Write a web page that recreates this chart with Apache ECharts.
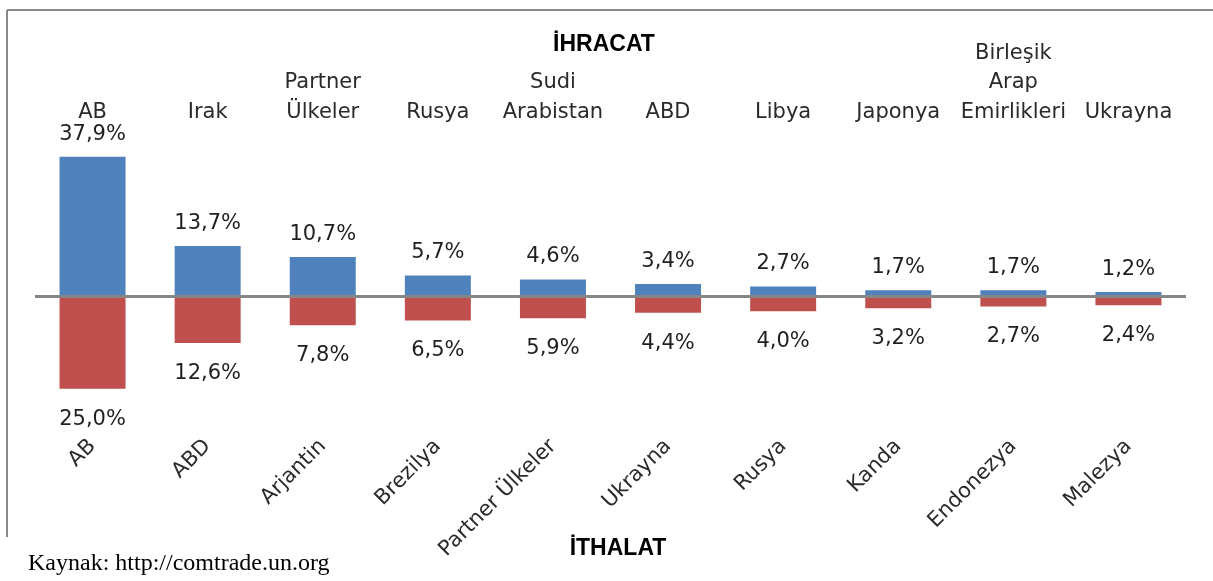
<!DOCTYPE html>
<html>
<head>
<meta charset="utf-8">
<script src="https://cdn.jsdelivr.net/npm/echarts@6/dist/echarts.min.js"></script>
<style>
html,body{margin:0;padding:0;background:#fff;}
#chart{width:1213px;height:581px;}
</style>
</head>
<body>
<div id="chart"></div>
<script>
const exportCountries = ['AB', 'Irak', 'Partner\nÜlkeler', 'Rusya', 'Sudi\nArabistan', 'ABD', 'Libya', 'Japonya', 'Birleşik\nArap\nEmirlikleri', 'Ukrayna'];
const exportValues = [37.9, 13.7, 10.7, 5.7, 4.6, 3.4, 2.7, 1.7, 1.7, 1.2];
const importCountries = ['AB', 'ABD', 'Arjantin', 'Brezilya', 'Partner Ülkeler', 'Ukrayna', 'Rusya', 'Kanda', 'Endonezya', 'Malezya'];
const importValues = [25.0, 12.6, 7.8, 6.5, 5.9, 4.4, 4.0, 3.2, 2.7, 2.4];
const titleExport = 'İHRACAT';
const titleImport = 'İTHALAT';
const sourceText = 'Kaynak: http://comtrade.un.org';

const fmt = v => Math.abs(v).toFixed(1).replace('.', ',') + '%';
const labelFont = "'DejaVu Sans', Verdana, sans-serif";

const chart = echarts.init(document.getElementById('chart'));
chart.setOption({
  backgroundColor: '#ffffff',
  animation: false,
  grid: { left: 35, right: 27, top: 149, bottom: 137 },
  graphic: [
    { type: 'line', shape: { x1: 7, y1: 10, x2: 1213, y2: 10 }, style: { stroke: '#8a8a8a', lineWidth: 2 } },
    { type: 'line', shape: { x1: 7, y1: 10, x2: 7, y2: 537 }, style: { stroke: '#8a8a8a', lineWidth: 2 } },
    { type: 'text', x: 604, y: 45, style: { text: titleExport, font: "bold 23px 'Liberation Sans', Arial, sans-serif", fill: '#000', align: 'center', verticalAlign: 'middle' } },
    { type: 'text', x: 618, y: 549, style: { text: titleImport, font: "bold 23px 'Liberation Sans', Arial, sans-serif", fill: '#000', align: 'center', verticalAlign: 'middle' } },
    { type: 'text', x: 28, y: 564, style: { text: sourceText, font: "24px 'Liberation Serif', 'Times New Roman', serif", fill: '#000', align: 'left', verticalAlign: 'middle' } }
  ],
  xAxis: [
    {
      type: 'category', data: importCountries, position: 'bottom',
      axisLine: { show: false, onZero: false }, axisTick: { show: false },
      axisLabel: { interval: 0, rotate: 45, margin: -1, padding: [42, 0, 0, 0], fontSize: 21, fontFamily: labelFont, color: '#2a2a2a' }
    },
    {
      type: 'category', data: exportCountries, position: 'top',
      axisLine: { show: false, onZero: false }, axisTick: { show: false },
      axisLabel: { interval: 0, margin: 22, lineHeight: 29.5, fontSize: 21, fontFamily: labelFont, color: '#2a2a2a' }
    }
  ],
  yAxis: { type: 'value', min: -40, max: 40, show: false, splitLine: { show: false } },
  series: [
    {
      name: 'İhracat', type: 'bar', xAxisIndex: 1, barWidth: 66, barGap: '-100%',
      data: exportValues,
      itemStyle: { color: '#4F81BD' },
      label: { show: true, position: 'top', distance: 12, formatter: p => fmt(p.value), fontSize: 21, fontFamily: labelFont, color: '#1f1f1f' },
      markLine: {
        silent: true, symbol: 'none', label: { show: false },
        lineStyle: { color: '#868686', width: 3, type: 'solid' },
        data: [{ yAxis: 0 }]
      }
    },
    {
      name: 'İthalat', type: 'bar', xAxisIndex: 0, barWidth: 66, barGap: '-100%',
      data: importValues.map(v => -v),
      itemStyle: { color: '#C0504D' },
      label: { show: true, position: 'bottom', distance: 20, formatter: p => fmt(p.value), fontSize: 21, fontFamily: labelFont, color: '#1f1f1f' }
    }
  ]
});
</script>
</body>
</html>
